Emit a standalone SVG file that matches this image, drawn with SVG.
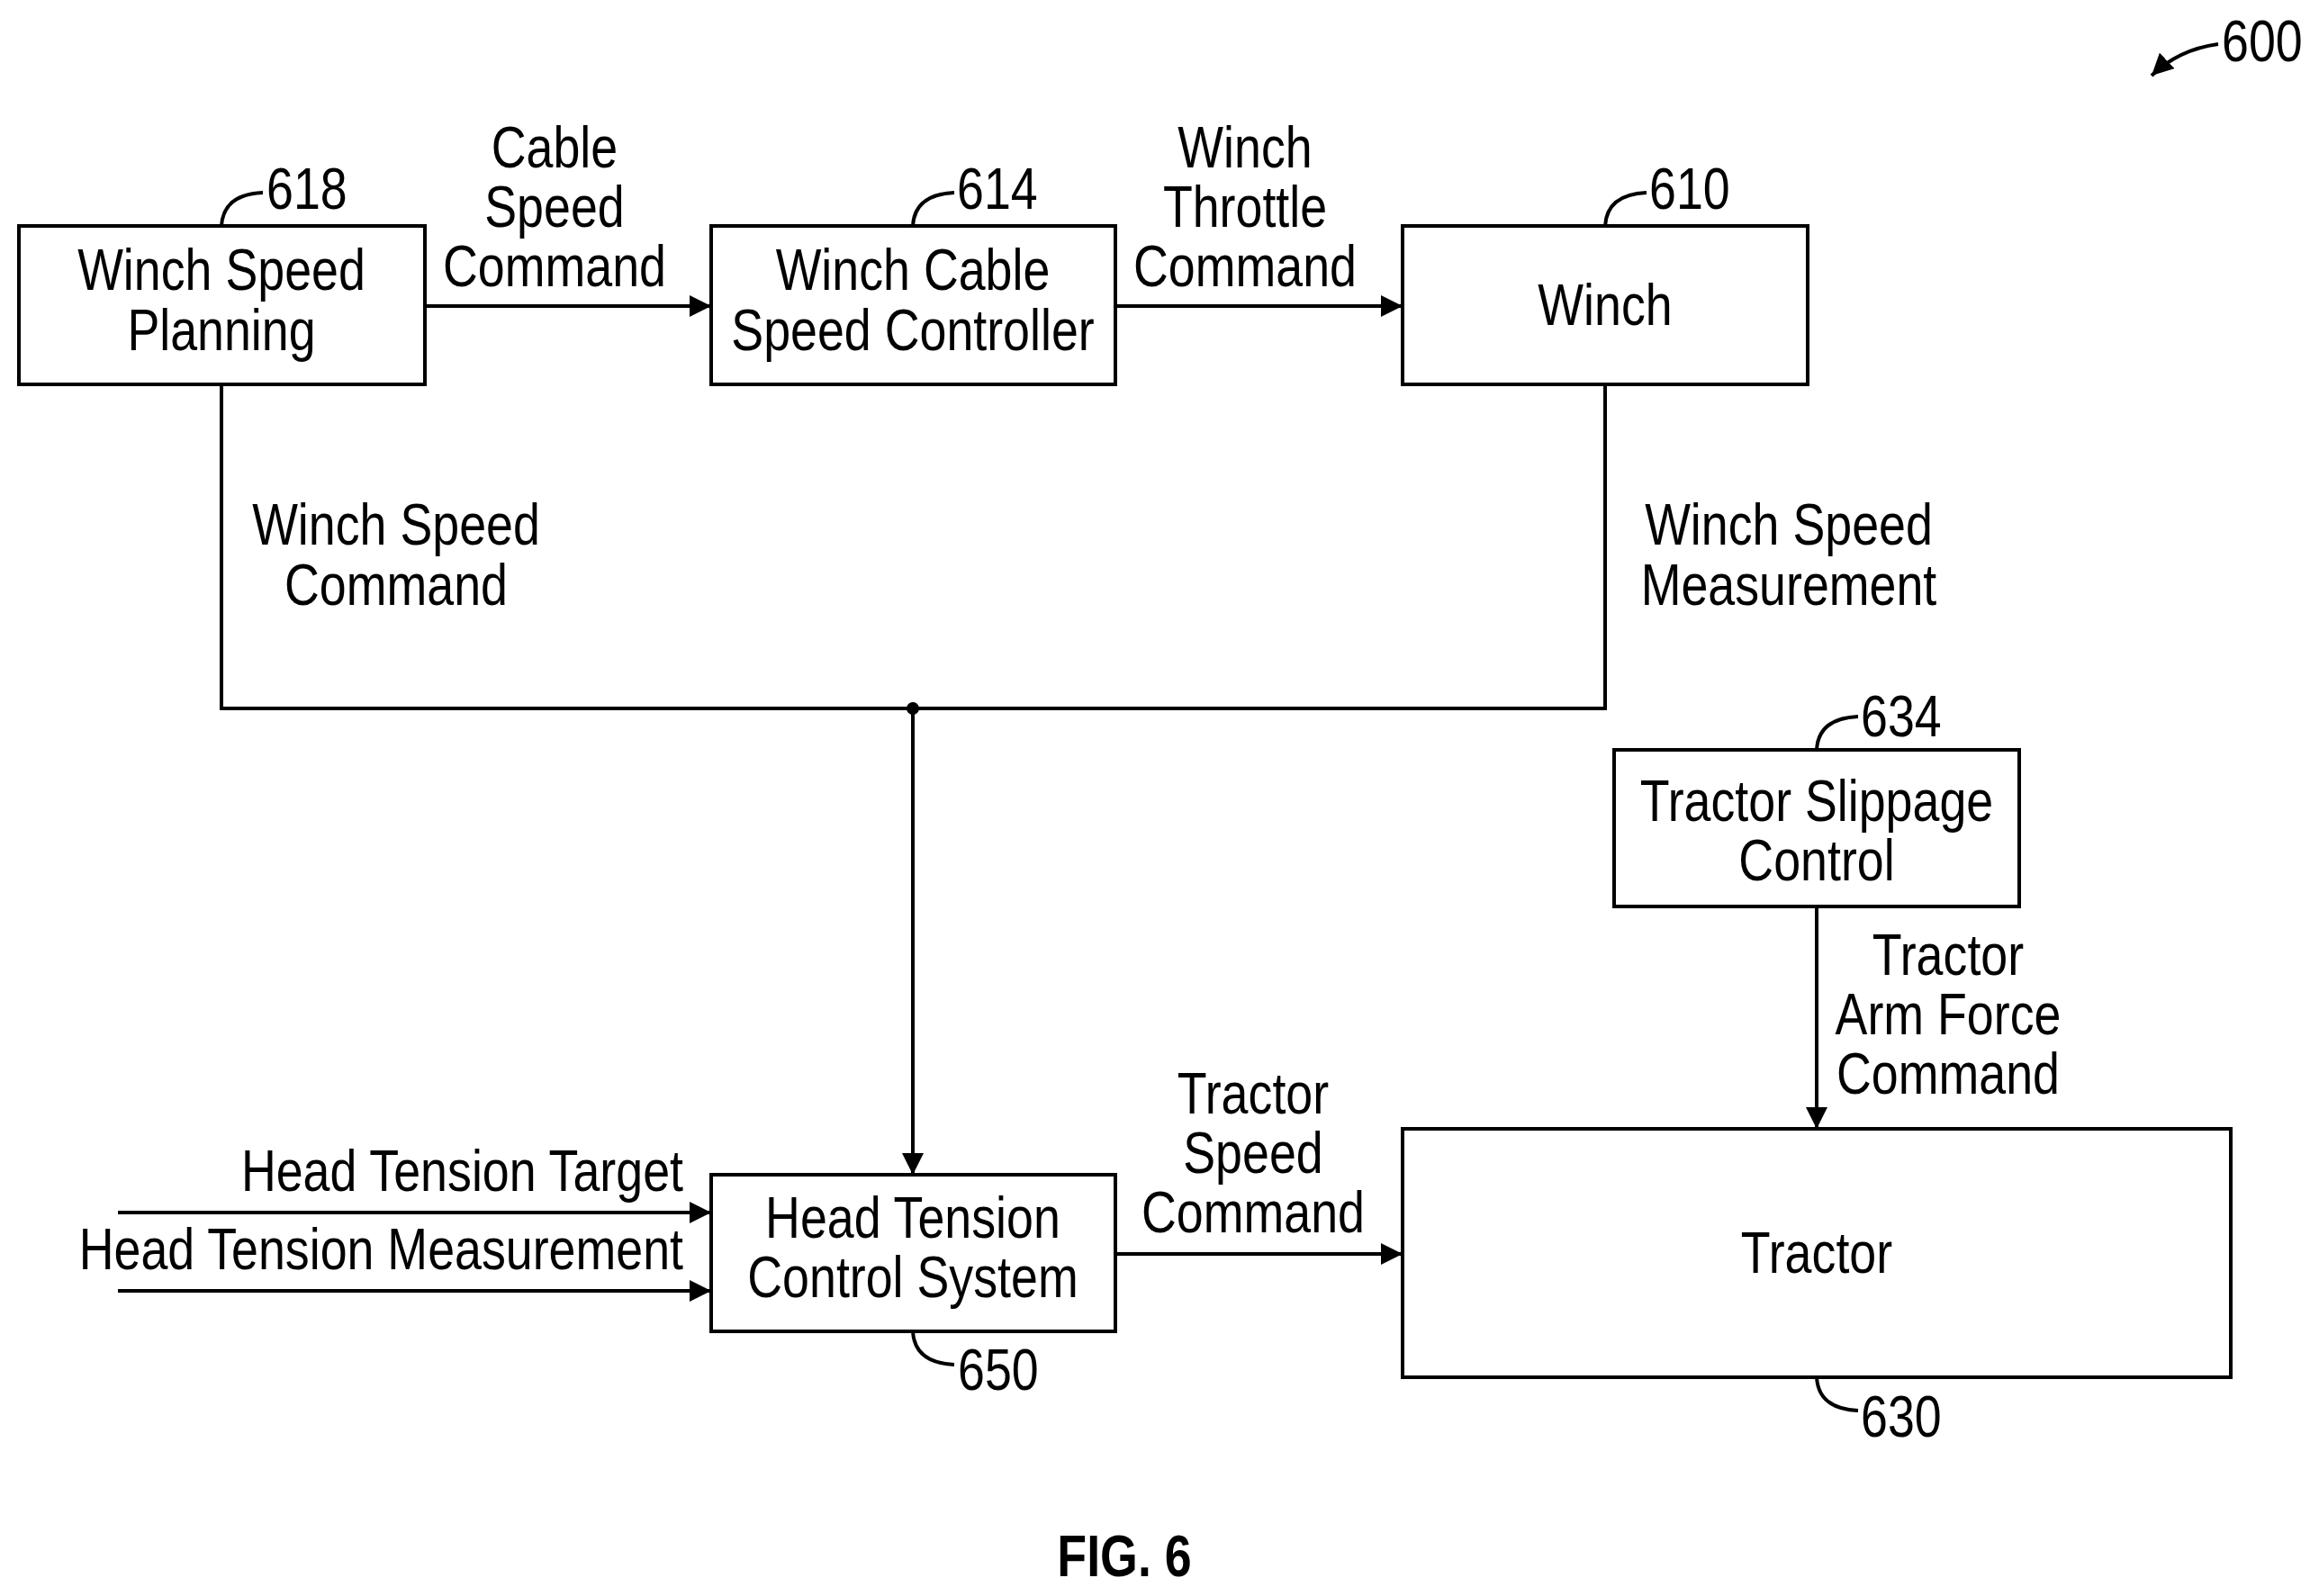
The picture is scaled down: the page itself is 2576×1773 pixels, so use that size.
<svg xmlns="http://www.w3.org/2000/svg" width="2576" height="1773" viewBox="0 0 2576 1773">
<defs>
<style>
text{font-family:"Liberation Sans",Arial,sans-serif;font-size:64px;fill:#000;transform-box:fill-box;transform-origin:left center;transform:scaleX(0.84)}
.c{text-anchor:middle;transform-origin:center center}.e{text-anchor:end;transform-origin:right center}
rect{fill:#fff;stroke:#000;stroke-width:4}
.l{fill:none;stroke:#000;stroke-width:4}
</style>
<marker id="ar" viewBox="0 0 10 10" refX="10" refY="5" markerWidth="6" markerHeight="6" orient="auto"><path d="M0,0L10,5L0,10z"/></marker>
</defs>
<rect width="2576" height="1773" style="fill:#fff;stroke:none"/>
<g id="connectors">
<path class="l" d="M472,340H790" marker-end="url(#ar)"/>
<path class="l" d="M1239,340H1558" marker-end="url(#ar)"/>
<path class="l" d="M246,427V787H1783V427"/>
<path class="l" d="M1014,787V1305" marker-end="url(#ar)"/>
<circle cx="1014" cy="787" r="7"/>
<path class="l" d="M2018,1007V1254" marker-end="url(#ar)"/>
<path class="l" d="M1239,1393H1558" marker-end="url(#ar)"/>
<path class="l" d="M131,1347H790" marker-end="url(#ar)"/>
<path class="l" d="M131,1434H790" marker-end="url(#ar)"/>
<path class="l" d="M2464,49Q2420,55 2390,84" marker-end="url(#ar)"/>
</g>
<g id="n618"><rect x="21" y="251" width="451" height="176"/><text class="c" x="246" y="322">Winch Speed</text><text class="c" x="246" y="389">Planning</text>
<path class="l" d="M246,251Q248,216 292,214"/><text x="296" y="232">618</text></g>
<g id="n614"><rect x="790" y="251" width="449" height="176"/><text class="c" x="1014" y="322">Winch Cable</text><text class="c" x="1014" y="389">Speed Controller</text>
<path class="l" d="M1014,251Q1016,216 1060,214"/><text x="1063" y="232">614</text></g>
<g id="n610"><rect x="1558" y="251" width="450" height="176"/><text class="c" x="1783" y="361">Winch</text>
<path class="l" d="M1783,251Q1785,216 1829,214"/><text x="1832" y="232">610</text></g>
<g id="n634"><rect x="1793" y="833" width="450" height="174"/><text class="c" x="2018" y="912">Tractor Slippage</text><text class="c" x="2018" y="978">Control</text>
<path class="l" d="M2018,833Q2020,798 2064,796"/><text x="2067" y="818">634</text></g>
<g id="n650"><rect x="790" y="1305" width="449" height="174"/><text class="c" x="1014" y="1375">Head Tension</text><text class="c" x="1014" y="1441">Control System</text>
<path class="l" d="M1014,1479Q1016,1514 1060,1516"/><text x="1064" y="1544">650</text></g>
<g id="n630"><rect x="1558" y="1254" width="920" height="276"/><text class="c" x="2018" y="1414">Tractor</text>
<path class="l" d="M2018,1530Q2020,1565 2064,1567"/><text x="2067" y="1596">630</text></g>
<g id="labels">
<text x="2468" y="68">600</text>
<text class="c" x="616" y="186">Cable</text><text class="c" x="616" y="252">Speed</text><text class="c" x="616" y="318">Command</text>
<text class="c" x="1383" y="186">Winch</text><text class="c" x="1383" y="252">Throttle</text><text class="c" x="1383" y="318">Command</text>
<text class="c" x="440" y="605">Winch Speed</text><text class="c" x="440" y="672">Command</text>
<text class="c" x="1987" y="605">Winch Speed</text><text class="c" x="1987" y="672">Measurement</text>
<text class="c" x="2164" y="1083">Tractor</text><text class="c" x="2164" y="1149">Arm Force</text><text class="c" x="2164" y="1215">Command</text>
<text class="c" x="1392" y="1237">Tractor</text><text class="c" x="1392" y="1303">Speed</text><text class="c" x="1392" y="1369">Command</text>
<text class="e" x="759" y="1323">Head Tension Target</text>
<text class="e" x="759" y="1410">Head Tension Measurement</text>
<text class="c" x="1249" y="1751" style="font-weight:bold">FIG. 6</text>
</g>
</svg>
